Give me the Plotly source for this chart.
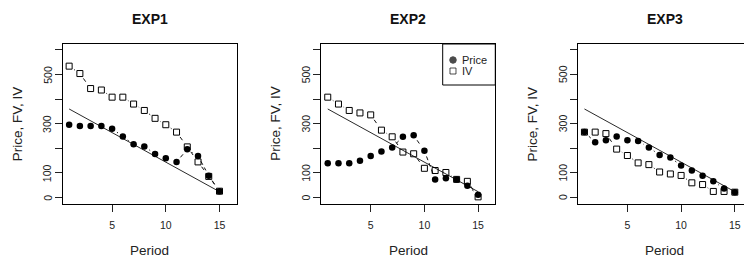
import math
import plotly.graph_objects as go

# ---------------- data ----------------
periods = list(range(1, 16))
fv = [360, 336, 312, 288, 264, 240, 216, 192, 168, 144, 120, 96, 72, 48, 24]

exp1_price = [296, 291, 291, 291, 280, 248, 217, 208, 177, 160, 145, 196, 169, 89, 26]
exp1_iv = [534, 504, 443, 437, 408, 408, 380, 354, 322, 296, 266, 206, 145, 86, 26]

exp2_price = [140, 140, 140, 150, 169, 187, 204, 247, 253, 190, 74, 79, 73, 48, 12]
exp2_iv = [408, 380, 354, 344, 336, 274, 247, 185, 178, 119, 110, 102, 74, 66, 3]

exp3_price = [266, 225, 233, 248, 233, 230, 204, 173, 163, 130, 110, 89, 66, 37, 22]
exp3_iv = [266, 266, 260, 197, 171, 141, 134, 104, 96, 90, 60, 53, 25, 25, 22]

titles = ["EXP1", "EXP2", "EXP3"]
prices = [exp1_price, exp2_price, exp3_price]
ivs = [exp1_iv, exp2_iv, exp3_iv]

y_tickvals = [0, 100, 200, 300, 400, 500, 600]
y_ticktext = ["0", "100", "", "300", "", "500", ""]
x_tickvals = [5, 10, 15]
legend_labels = ["Price", "IV"]

# ---------------- layout geometry (pixels) ----------------
W, H = 744, 262
box_top, box_bot = 44.0, 203.5
panel_left = [62.7, 321.3, 578.0]
px_per_unit = 10.74
x_lo = 0.4
x_hi_full = 16.6
y_range = [-24, 624]
sy = (box_bot - box_top) / (y_range[1] - y_range[0])

def px_x(p):
    return p / W

def px_y(p):
    return 1 - p / H

def gapped(xs, ys, gap=6.0):
    """R type='b' style: segments with gaps around the points."""
    X, Y = [], []
    for i in range(len(xs) - 1):
        dx = xs[i + 1] - xs[i]
        dy = ys[i + 1] - ys[i]
        d = math.hypot(dx * px_per_unit, dy * sy)
        if d > 2 * gap:
            f = gap / d
            X += [xs[i] + dx * f, xs[i + 1] - dx * f, None]
            Y += [ys[i] + dy * f, ys[i + 1] - dy * f, None]
    return X, Y

fig = go.Figure()
ink = "#111111"
font_fam = "Liberation Sans, Arial, sans-serif"

annotations = []
layout_axes = {}
for k in range(3):
    xa = "x" if k == 0 else f"x{k+1}"
    ya = "y" if k == 0 else f"y{k+1}"
    left = panel_left[k]
    right = min(left + (x_hi_full - x_lo) * px_per_unit, W)
    x_hi = x_lo + (right - left) / px_per_unit

    fig.add_trace(go.Scatter(x=periods, y=fv, mode="lines",
                             line=dict(color="#2a2a2a", width=1),
                             xaxis=xa, yaxis=ya, showlegend=False, hoverinfo="skip"))
    gx, gy = gapped(periods, prices[k])
    fig.add_trace(go.Scatter(x=gx, y=gy, mode="lines",
                             line=dict(color=ink, width=1, dash="4px,3px"),
                             xaxis=xa, yaxis=ya, showlegend=False, hoverinfo="skip"))
    gx, gy = gapped(periods, ivs[k])
    fig.add_trace(go.Scatter(x=gx, y=gy, mode="lines",
                             line=dict(color=ink, width=1, dash="4px,3px"),
                             xaxis=xa, yaxis=ya, showlegend=False, hoverinfo="skip"))
    fig.add_trace(go.Scatter(x=periods, y=prices[k], mode="markers",
                             marker=dict(symbol="circle", size=6.5, color="black"),
                             xaxis=xa, yaxis=ya, showlegend=False))
    fig.add_trace(go.Scatter(x=periods, y=ivs[k], mode="markers",
                             marker=dict(symbol="square-open", size=6,
                                         color="black", line=dict(width=1, color="black")),
                             xaxis=xa, yaxis=ya, showlegend=False))

    xkey = "xaxis" if k == 0 else f"xaxis{k+1}"
    ykey = "yaxis" if k == 0 else f"yaxis{k+1}"
    layout_axes[xkey] = dict(
        domain=[px_x(left), px_x(right)], range=[x_lo, x_hi], anchor=ya,
        tickvals=x_tickvals, ticks="outside", ticklen=7, tickwidth=1, tickcolor="#222",
        showline=True, linecolor="black", linewidth=1, mirror=True,
        showgrid=False, zeroline=False, ticklabelstandoff=5,
        tickfont=dict(size=10.5, color="#222", family=font_fam), fixedrange=True)
    layout_axes[ykey] = dict(
        domain=[px_y(box_bot), px_y(box_top)], range=y_range, anchor=xa,
        tickvals=y_tickvals, showticklabels=False,
        ticks="outside", ticklen=7, tickwidth=1, tickcolor="#222",
        showline=True, linecolor="black", linewidth=1, mirror=(k < 2),
        showgrid=False, zeroline=False, fixedrange=True)

    # rotated y tick labels (R style, las=0)
    for v, t in zip(y_tickvals, y_ticktext):
        if t:
            annotations.append(dict(text=t, x=px_x(left - 15.5), y=v,
                                    xref="paper", yref=ya, showarrow=False,
                                    textangle=-90, xanchor="center", yanchor="middle",
                                    font=dict(size=10.5, color="#222", family=font_fam)))

    cx = left + (x_hi_full - x_lo) * px_per_unit / 2
    annotations.append(dict(text=f"<b>{titles[k]}</b>", x=px_x(cx), y=px_y(19),
                            xref="paper", yref="paper", showarrow=False,
                            xanchor="center", yanchor="middle",
                            font=dict(size=14, color="#111", family=font_fam)))
    annotations.append(dict(text="Period", x=px_x(cx), y=px_y(250),
                            xref="paper", yref="paper", showarrow=False,
                            xanchor="center", yanchor="middle",
                            font=dict(size=13.5, color="#222", family=font_fam)))
    annotations.append(dict(text="Price, FV, IV", x=px_x(left - 45.3),
                            y=px_y((box_top + box_bot) / 2),
                            xref="paper", yref="paper", showarrow=False, textangle=-90,
                            xanchor="center", yanchor="middle",
                            font=dict(size=13.5, color="#222", family=font_fam)))

# ---------- legend inside EXP2 ----------
left2 = panel_left[1]
def to_x2(p):
    return x_lo + (p - left2) / px_per_unit

def to_y2(p):
    return y_range[0] + (box_bot - p) / sy

leg_left = 442.7
leg_right = left2 + (x_hi_full - x_lo) * px_per_unit
leg_top, leg_bot = box_top, 85.0
leg_rows = [60.0, 71.0]
fig.add_trace(go.Scatter(x=[to_x2(453), to_x2(453)], y=[to_y2(r) for r in leg_rows],
                         mode="markers",
                         marker=dict(symbol=["circle", "square-open"], size=[6.5, 6],
                                     color="black", line=dict(width=1, color="black")),
                         xaxis="x2", yaxis="y2", showlegend=False, hoverinfo="skip"))
for lbl, ry in zip(legend_labels, leg_rows):
    annotations.append(dict(text=lbl, x=to_x2(460), y=to_y2(ry), xref="x2", yref="y2",
                            showarrow=False, xanchor="left", yanchor="middle",
                            font=dict(size=11, color="#222", family=font_fam)))

shapes = [dict(type="rect", xref="paper", yref="paper",
               x0=px_x(leg_left), x1=px_x(leg_right),
               y0=px_y(leg_bot), y1=px_y(leg_top),
               line=dict(color="black", width=1), fillcolor="rgba(0,0,0,0)")]

fig.update_layout(
    width=W, height=H, margin=dict(l=0, r=0, t=0, b=0),
    paper_bgcolor="white", plot_bgcolor="white",
    annotations=annotations, shapes=shapes, showlegend=False,
    font=dict(family=font_fam),
    **layout_axes,
)

fig.write_html("out.html", config={"displayModeBar": False},
               post_script="document.body.style.margin='0px';")
